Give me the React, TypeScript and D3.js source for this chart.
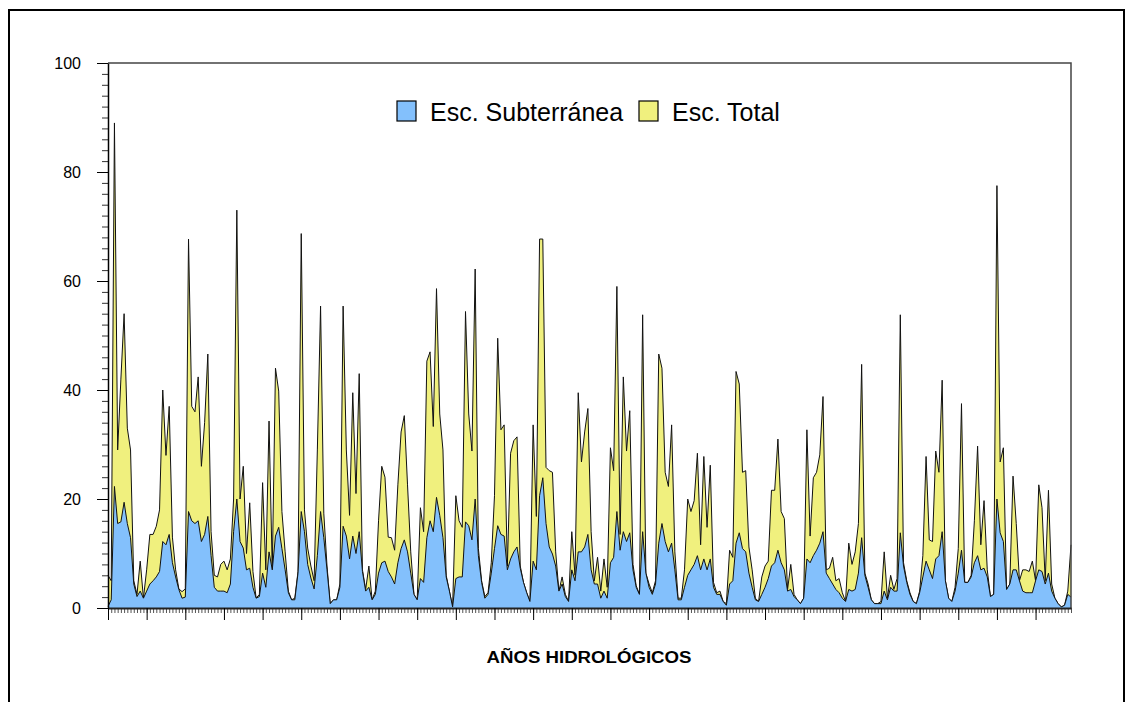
import { useEffect, useRef } from "react";
import * as d3 from "d3";

// monthly runoff, 25 hydrological years (Oct-Sep), 300 months
const escTotal = [
  6, 5, 89, 29, 42, 54, 33, 29, 5, 2.5, 8.6, 1.8,
  7, 13.5, 13.5, 15, 18, 40, 28, 37, 13, 7, 3.5, 3,
  3.5, 67.7, 37, 36, 42.4, 26, 34, 46.6, 14, 6, 5.7, 8,
  8.6, 7, 9, 20, 73, 20, 26, 10, 19.3, 6.7, 1.8, 2.5,
  23, 7, 34.3, 7, 44, 39.8, 17.7, 10.3, 3.1, 1.5, 1.8, 6.7,
  68.7, 18, 11, 7.7, 5, 29, 55.4, 17.4, 7.7, 0.8, 1.5, 1.5,
  4.4, 55.4, 29, 17, 39.5, 21, 43, 7, 3.4, 7.7, 1.5, 3.1,
  16, 26, 24, 13, 12.9, 10.6, 22.6, 32.3, 35.3, 22.6, 10.3, 2.5,
  1.5, 18.4, 14, 45.3, 47, 33.3, 58.6, 35.6, 29, 6, 3.1, 0.2,
  20.6, 16, 14.8, 54.4, 35.6, 28.8, 62.2, 10.9, 5, 2.1, 2.8, 8.3,
  20.6, 49.5, 32.7, 33.6, 7.7, 28.4, 30.7, 31.4, 7.7, 4.7, 2.8, 1.2,
  33.6, 16.8, 67.7, 67.7, 25.8, 25.2, 24.9, 10.3, 3.1, 5.7, 2.5, 1.2,
  14, 6, 39.5, 26.8, 32.3, 36.6, 14, 5, 9.3, 3.1, 9, 3.8,
  29.4, 25.2, 59, 13.5, 42.4, 28.8, 36.2, 8, 4.1, 2.5, 53.8, 6.4,
  4.4, 2.8, 5, 46.6, 44, 24.9, 22.3, 33.6, 10.3, 1.8, 1.8, 7,
  20, 17.7, 19.7, 28.4, 11.6, 27.8, 14.8, 26.2, 4.7, 2.8, 3.1, 1.2,
  0.8, 10.6, 9.3, 43.4, 41.1, 24.9, 25.2, 11.2, 7, 1.8, 1.2, 5.7,
  7.7, 8.6, 21.6, 21.6, 31, 17.7, 16.4, 3.4, 8, 2.5, 1.5, 0.8,
  1.8, 32.7, 13.2, 23.9, 24.9, 28.1, 38.8, 7, 7.3, 9.3, 5, 5.4,
  2.8, 1.2, 11.9, 8, 10.3, 15.5, 44.7, 6.4, 4.4, 1.5, 0.8, 0.8,
  1.2, 10.3, 1.8, 6, 3.4, 5.4, 53.8, 8.3, 5, 2.8, 1.2, 0.8,
  3.1, 9.6, 27.8, 12.5, 12.2, 28.8, 24.9, 41.8, 5, 1.8, 1.2, 3.8,
  10.9, 37.5, 4.7, 4.7, 6, 16, 29.7, 11.6, 19.7, 7, 2.1, 2.5,
  77.5, 26.8, 29.4, 3.4, 4.4, 24.2, 15.5, 5, 7, 7, 6.7, 8.6,
  5, 22.6, 18.4, 5, 21.6, 4.4, 1.8, 0.8, 0.2, 0.5, 3.1, 11.6,
];

const escSubterranea = [
  0.3, 1.5, 22.3, 15.5, 15.8, 19.4, 15.5, 12.9, 4.4, 2.1, 3.1, 1.8,
  3.1, 4.4, 5, 5.7, 6.7, 12.2, 11.6, 13.5, 8.3, 5.7, 3.4, 1.8,
  2, 17.7, 16, 15.5, 16, 12.2, 13.5, 16.8, 9.6, 3.8, 3.1, 3.1,
  3.1, 2.8, 4.4, 14, 20, 12.2, 11, 7, 7.3, 3.8, 1.8, 2.1,
  6.4, 3.8, 10.3, 7, 13.2, 14.8, 10.9, 7, 2.8, 1.5, 1.5, 6.4,
  17.7, 14, 8, 5.5, 3.5, 9.6, 17.7, 12.9, 7, 0.8, 1.5, 1.5,
  3.8, 15, 13.2, 9, 13.2, 10, 14, 6.7, 3.1, 3.8, 1.5, 2.5,
  6.4, 8.3, 8.6, 6.7, 5.7, 4.4, 8.3, 10.9, 12.5, 10.3, 6.4, 2.5,
  1.5, 5.4, 4.7, 12.9, 16, 14, 20.3, 17, 12.9, 5.7, 3.1, 0.2,
  5.4, 5.7, 5.7, 15.8, 15.1, 12.5, 20, 9.6, 4.7, 1.8, 2.5, 6.4,
  10.9, 15.1, 13.5, 13.2, 7, 9, 10.3, 11.2, 7.3, 4.7, 2.8, 1.2,
  8.6, 7, 20.6, 23.9, 15.5, 11.2, 9.9, 7.7, 3.1, 4.4, 2.1, 1.2,
  7, 5, 10.3, 10.3, 11.2, 13.5, 7, 4.4, 4.4, 1.8, 3.1, 1.8,
  8.3, 9.3, 17.7, 10.6, 14, 12.2, 13.8, 7, 3.8, 2.5, 14, 6.4,
  3.8, 2.5, 4.4, 11.9, 15.5, 12.2, 10.3, 11.9, 7, 1.5, 1.5, 3.8,
  6, 7, 8, 9.6, 7, 9, 7, 9, 3.8, 2.5, 2.5, 1.2,
  0.5, 4.4, 5, 11.9, 13.8, 10.9, 10.3, 6.4, 3.8, 1.5, 1.2, 2.5,
  3.8, 5.4, 7.7, 8.3, 10.6, 8.3, 7, 3.1, 3.4, 2.1, 1.5, 0.8,
  1.8, 9, 8.3, 9.6, 10.6, 11.9, 14, 6.4, 5.4, 4.4, 3.4, 2.8,
  1.8, 1.2, 3.4, 3.1, 3.4, 6.4, 12.9, 6, 3.8, 1.5, 0.8, 0.8,
  0.8, 3.1, 1.5, 3.8, 3.1, 3.1, 13.8, 7.7, 4.7, 2.5, 1.2, 0.8,
  2.8, 5.7, 8.6, 7, 5.4, 9, 9.6, 14, 5, 1.8, 1.2, 3.1,
  6.4, 10.6, 4.7, 4.7, 5.7, 8.3, 9.6, 7, 7.3, 5.7, 2.1, 2.5,
  20, 13.8, 12.2, 3.4, 4.4, 7, 7, 5, 3.1, 2.8, 2.8, 2.8,
  5, 7, 6.7, 4.4, 6.4, 3.1, 1.8, 0.8, 0.2, 0.5, 2.5, 2,
];

const yMajorTicks = [0, 20, 40, 60, 80, 100];
const legendLabels = ["Esc. Subterránea", "Esc. Total"];
const xTitle = "AÑOS HIDROLÓGICOS";

const BLUE = "#83c0fc";
const YELLOW = "#f0f07e";
const FONT = "'Liberation Sans', Arial, sans-serif";

function App() {
    const svgRef = useRef<SVGSVGElement | null>(null);

    useEffect(() => {
        if (!svgRef.current) return;

        const width = 1133;
        const height = 702;
        const left = 108, right = 1071, top = 63, bottom = 608;
        const n = escTotal.length;

        const svg = d3.select(svgRef.current)
            .attr("width", width)
            .attr("height", height);
        svg.selectAll("*").remove();

        // outer frame (bottom edge runs off the picture)
        svg.append("rect")
            .attr("x", 9).attr("y", 10)
            .attr("width", 1115).attr("height", 720)
            .attr("fill", "none").attr("stroke", "#000").attr("stroke-width", 2);

        const x = d3.scaleLinear().domain([0, n - 1]).range([left, right]);
        const y = d3.scaleLinear().domain([0, 100]).range([bottom, top]);

        const area = (vals: number[]) =>
            d3.area<number>()
                .x((_, i) => x(i))
                .y0(y(0))
                .y1((d) => y(d))(vals) as string;

        const line = (vals: number[]) =>
            d3.line<number>()
                .x((_, i) => x(i))
                .y((d) => y(d))(vals) as string;

        svg.append("path").attr("d", area(escTotal)).attr("fill", YELLOW);
        svg.append("path").attr("d", line(escTotal))
            .attr("fill", "none").attr("stroke", "#111").attr("stroke-width", 1);
        svg.append("path").attr("d", area(escSubterranea)).attr("fill", BLUE);
        svg.append("path").attr("d", line(escSubterranea))
            .attr("fill", "none").attr("stroke", "#111").attr("stroke-width", 1);

        // plot frame top/right
        svg.append("path")
            .attr("d", `M${left},${top}H${right}V${bottom}`)
            .attr("fill", "none").attr("stroke", "#444").attr("stroke-width", 1.5);

        // y axis
        const yMinor = svg.append("g").attr("transform", `translate(${left},0)`)
            .call(d3.axisLeft(y).tickValues(d3.range(0, 101, 2)).tickSize(6).tickSizeOuter(0).tickFormat(() => ""));
        yMinor.select(".domain").remove();
        yMinor.selectAll("line").attr("stroke", "#333");

        const yAxis = svg.append("g").attr("transform", `translate(${left},0)`)
            .call(d3.axisLeft(y).tickValues(yMajorTicks).tickSize(11).tickSizeOuter(0).tickPadding(16).tickFormat(d3.format("d")));
        yAxis.select(".domain").attr("stroke", "#000").attr("stroke-width", 1.5);
        yAxis.selectAll("text").attr("font-family", FONT).attr("font-size", 16).attr("fill", "#000");

        // x axis
        const xMinor = svg.append("g").attr("transform", `translate(0,${bottom})`)
            .call(d3.axisBottom(x).tickValues(d3.range(0, n)).tickSize(5).tickSizeOuter(0).tickFormat(() => ""));
        xMinor.select(".domain").remove();
        xMinor.selectAll("line").attr("stroke", "#555");

        const xAxis = svg.append("g").attr("transform", `translate(0,${bottom})`)
            .call(d3.axisBottom(x).tickValues(d3.range(0, n, 12)).tickSize(12).tickSizeOuter(0).tickFormat(() => ""));
        xAxis.select(".domain").attr("stroke", "#222").attr("stroke-width", 2);

        svg.append("text")
            .attr("x", 589).attr("y", 663)
            .attr("text-anchor", "middle")
            .attr("font-family", FONT).attr("font-size", 16).attr("font-weight", "bold")
            .attr("textLength", 205).attr("lengthAdjust", "spacingAndGlyphs")
            .text(xTitle);

        // legend
        const legend = svg.append("g").attr("font-family", FONT).attr("font-size", 25);
        const legendX = [397, 639];
        [BLUE, YELLOW].forEach((c, i) => {
            legend.append("rect")
                .attr("x", legendX[i]).attr("y", 101)
                .attr("width", 19).attr("height", 20)
                .attr("fill", c).attr("stroke", "#000").attr("stroke-width", 1.2);
            legend.append("text")
                .attr("x", legendX[i] + 33).attr("y", 121)
                .text(legendLabels[i]);
        });
    }, []);

    return (
        <div>
            <svg ref={svgRef} style={{ position: "absolute", left: 0, top: 0 }}></svg>
        </div>
    );
}

export default App;
